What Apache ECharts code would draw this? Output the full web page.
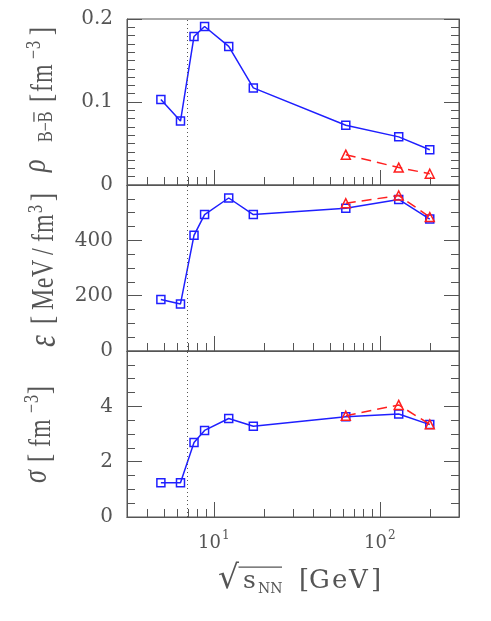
<!DOCTYPE html>
<html><head><meta charset="utf-8">
<script src="https://cdn.jsdelivr.net/npm/echarts@6/dist/echarts.min.js"></script>
<style>html,body{margin:0;padding:0;background:#fff}#c{width:491px;height:621px}</style>
</head><body><div id="c"></div>
<script>
// ---- data ----
const energies = [4.8, 6.3, 7.6, 8.8, 12.3, 17.3, 62.4, 130, 200];
const energiesRed = [62.4, 130, 200];
const rhoBlue = [0.103, 0.077, 0.179, 0.191, 0.167, 0.117, 0.072, 0.058, 0.0425];
const rhoRed = [0.0365, 0.021, 0.0136];
const epsBlue = [186, 170, 418, 493, 553, 493, 516, 548, 477];
const epsRed = [534, 562, 484];
const sigmaBlue = [1.24, 1.24, 2.69, 3.13, 3.56, 3.28, 3.62, 3.72, 3.34];
const sigmaRed = [3.66, 4.05, 3.35];
const criticalEnergy = 6.9;
const xMinorTicks = [4, 5, 6, 7, 8, 9, 20, 30, 40, 50, 60, 70, 80, 90, 200, 300];
const xMajorTicks = [10, 100];

const axisColor = '#555';
const textColor = '#555';
const NUMFONT = 'DejaVu Serif';
const TFONT = 'Liberation Serif';
const blue = '#1f1fff';
const red = '#ff1f1f';

const panels = [
  {min: 0, max: 0.2, interval: 0.1, minor: 10, blue: rhoBlue, red: rhoRed, hideMax: false},
  {min: 0, max: 600, interval: 200, minor: 4, blue: epsBlue, red: epsRed, hideMax: true},
  {min: 0, max: 6, interval: 2, minor: 4, blue: sigmaBlue, red: sigmaRed, hideMax: true}
];
const tops = [19, 185, 351];

const chart = echarts.init(document.getElementById('c'));
const grid = [], xAxis = [], yAxis = [], series = [];
panels.forEach((p, i) => {
  grid.push({left: 127, width: 332, top: tops[i], height: 166, show: true, borderColor: axisColor, borderWidth: 1, backgroundColor: 'transparent'});
  const baseX = {type: 'log', logBase: 10, min: 3, max: 300, gridIndex: i, position: 'bottom',
    axisLine: {show: true, lineStyle: {color: axisColor, width: 1}}, splitLine: {show: false}};
  xAxis.push(Object.assign({}, baseX, {
    axisTick: {show: true, inside: true, length: 8, customValues: xMinorTicks, lineStyle: {color: axisColor}},
    axisLabel: {show: false}
  }));
  xAxis.push(Object.assign({}, baseX, {
    axisTick: {show: true, inside: true, length: 15, customValues: xMajorTicks, lineStyle: {color: axisColor}},
    axisLabel: {show: i === 2, customValues: xMajorTicks, margin: 13,
      formatter: v => '{b|10}{s|' + Math.round(Math.log10(v)) + '}',
      rich: {b: {fontFamily: NUMFONT, fontSize: 18, color: textColor, lineHeight: 22, verticalAlign: 'bottom'},
             s: {fontFamily: NUMFONT, fontSize: 12, color: textColor, lineHeight: 12, verticalAlign: 'top', padding: [0, 0, 0, 1]}}}
  }));
  const baseY = {type: 'value', gridIndex: i, min: p.min, max: p.max, interval: p.interval,
    axisLine: {show: true, lineStyle: {color: axisColor}}, splitLine: {show: false},
    minorTick: {show: true, splitNumber: p.minor, length: 8, lineStyle: {color: axisColor}},
    axisTick: {show: true, inside: true, length: 15, lineStyle: {color: axisColor}}};
  yAxis.push(Object.assign({}, baseY, {position: 'left',
    axisLabel: {show: true, margin: 14, fontFamily: NUMFONT, fontSize: 20, color: textColor,
      formatter: v => (p.hideMax && v === p.max) ? '' : String(v)}}));
  yAxis.push(Object.assign({}, baseY, {position: 'right', axisLabel: {show: false}}));
  series.push({type: 'line', xAxisIndex: 2 * i, yAxisIndex: 2 * i,
    data: energies.map((e, k) => [e, p.blue[k]]),
    symbol: 'rect', symbolSize: 8, showSymbol: true,
    lineStyle: {color: blue, width: 1.5}, itemStyle: {color: 'rgba(0,0,0,0)', borderColor: blue, borderWidth: 1.5},
    z: 3,
    markLine: {silent: true, symbol: 'none', label: {show: false},
      lineStyle: {color: '#555', type: [1, 3], width: 1}, data: [{xAxis: criticalEnergy}]}
  });
  series.push({type: 'line', xAxisIndex: 2 * i, yAxisIndex: 2 * i,
    data: energiesRed.map((e, k) => [e, p.red[k]]),
    symbol: 'triangle', symbolSize: 9,
    lineStyle: {color: red, width: 1.5, type: [10, 6]}, itemStyle: {color: 'rgba(0,0,0,0)', borderColor: red, borderWidth: 1.5},
    z: 4
  });
});

// ---- text layout helper (places characters along a baseline) ----
const mctx = document.createElement('canvas').getContext('2d');
function buildText(tokens) {
  const kids = [];
  tokens.forEach(tk => {
    const fam = tk.family || TFONT;
    const f = (tk.italic ? 'italic ' : '') + tk.size + 'px "' + fam + '"';
    mctx.font = f;
    mctx.textBaseline = 'middle';
    const off = mctx.measureText('H').actualBoundingBoxDescent;
    mctx.textBaseline = 'alphabetic';
    let x = tk.at;
    const B = tk.dy || 0;
    Array.from(tk.t).forEach((ch, idx) => {
      const m = mctx.measureText(ch);
      kids.push({type: 'text', x: x, y: B - off,
        style: {text: ch, fontSize: tk.size, fontFamily: fam, fontStyle: tk.italic ? 'italic' : 'normal',
          fill: textColor, align: 'left', verticalAlign: 'middle'}});
      if (tk.ol && tk.ol.indexOf(idx) >= 0) {
        const yl = B - m.actualBoundingBoxAscent - (tk.olGap || 3);
        kids.push({type: 'rect', shape: {x: x + 0.5, y: yl, width: m.width - 1, height: 1},
          style: {fill: textColor}});
      }
      if (tk.bar) {
        const x1 = x + m.actualBoundingBoxRight - 1.5;
        kids.push({type: 'rect', shape: {x: x1, y: B + tk.barY, width: tk.bar - x1, height: 1.3},
          style: {fill: textColor}});
      }
      x += m.width + (tk.ls || 0);
    });
  });
  return kids;
}

const title1 = [
  {t: 'ρ', size: 26, italic: true, at: 0, dy: -5},
  {t: 'B−B', size: 16, at: 30, dy: 0, ol: [2]},
  {t: '[', size: 24, at: 70},
  {t: 'fm', size: 24, at: 80, ls: 1},
  {t: '−3', size: 16, at: 113, dy: -9, ls: 1},
  {t: ']', size: 24, at: 137}
];
const title2 = [
  {t: 'ε', size: 30, italic: true, at: 0, dy: 1.5},
  {t: '[', size: 24, at: 23},
  {t: 'MeV', size: 24, at: 37, ls: 0.5},
  {t: '/', size: 24, at: 92},
  {t: 'fm', size: 24, at: 105, ls: 1},
  {t: '3', size: 16, at: 134, dy: -8.5},
  {t: ']', size: 24, at: 146}
];
const title3 = [
  {t: 'σ', size: 26, italic: true, at: 0, dy: -3},
  {t: '[', size: 24, at: 21},
  {t: 'fm', size: 24, at: 36, ls: 1},
  {t: '−3', size: 16, at: 70, dy: -9, ls: 1},
  {t: ']', size: 24, at: 89}
];
const xTitle = [
  {t: '√', size: 33, at: 218, family: 'DejaVu Serif', bar: 282, barY: -21.5},
  {t: 's', size: 25, at: 243, family: 'DejaVu Serif'},
  {t: 'NN', size: 14, at: 258, dy: 5, family: 'DejaVu Serif'},
  {t: '[', size: 26, at: 299, family: 'DejaVu Serif'},
  {t: 'G', size: 26, at: 309, family: 'DejaVu Serif'},
  {t: 'e', size: 26, at: 332, family: 'DejaVu Serif'},
  {t: 'V', size: 26, at: 349, family: 'DejaVu Serif'},
  {t: ']', size: 26, at: 371, family: 'DejaVu Serif'}
];

const graphic = [
  {type: 'group', x: 51.5, y: 172, rotation: Math.PI / 2, scaleX: 1, scaleY: 1.3, children: buildText(title1)},
  {type: 'group', x: 53, y: 347, rotation: Math.PI / 2, scaleX: 1, scaleY: 1.3, children: buildText(title2)},
  {type: 'group', x: 50, y: 483, rotation: Math.PI / 2, scaleX: 1, scaleY: 1.3, children: buildText(title3)},
  {type: 'group', x: 0, y: 588, children: buildText(xTitle)}
];

chart.setOption({animation: false, grid, xAxis, yAxis, series, graphic});
</script></body></html>
